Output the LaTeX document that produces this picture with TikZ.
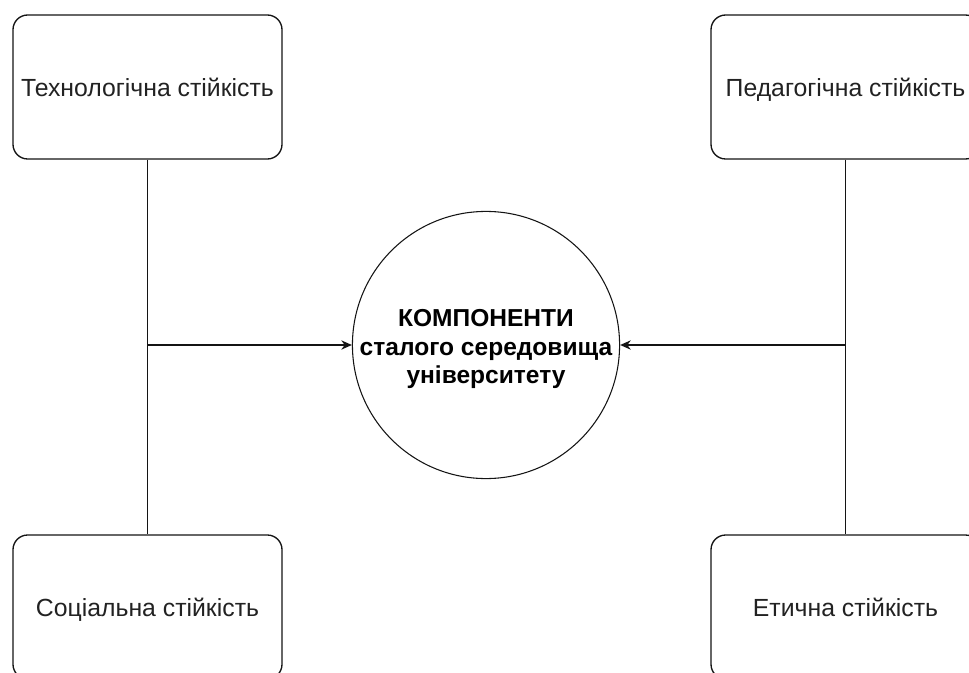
\documentclass[tikz,border=0pt]{standalone}
\usepackage{fontspec}
\setmainfont{Liberation Sans}
\usepackage{xcolor}
\usetikzlibrary{positioning,arrows.meta}
\definecolor{ink}{RGB}{20,20,20}
\definecolor{textink}{RGB}{34,34,34}

\tikzset{
  partbox/.style={draw=ink,line width=1pt,rounded corners=11pt,minimum width=201.75pt,minimum height=108pt,text=textink,text height=17pt,text depth=3pt,font=\fontsize{18.6}{22}\selectfont},
  corecircle/.style={draw=ink,line width=0.8pt,circle,minimum size=200pt,inner sep=0pt,align=center,text=black,font=\fontsize{18.4}{21.5}\selectfont\bfseries},
  link/.style={draw=ink,line width=1pt},
  feed/.style={link,-{Stealth[length=8pt,width=7pt]}}
}

\begin{document}
\begin{tikzpicture}[x=0.75pt,y=-0.75pt]
\useasboundingbox (0,0) rectangle (969,673);
\node[partbox] (tech) at (147.5,87) {Технологічна стійкість};
\node[partbox] (ped) at (845.5,87) {Педагогічна стійкість};
\node[partbox] (soc) at (147.5,607) {Соціальна стійкість};
\node[partbox] (eth) at (845.5,607) {Етична стійкість};
\node[corecircle] (core) at (486,345) {\rule{0pt}{19pt}КОМПОНЕНТИ\\сталого середовища\\університету};
\coordinate (lj) at (tech.south |- core.west);
\coordinate (rj) at (ped.south |- core.east);
\draw[link] (tech.south) -- (soc.north);
\draw[link] (ped.south) -- (eth.north);
\draw[feed] (lj) -- (core.west);
\draw[feed] (rj) -- (core.east);
\end{tikzpicture}
\end{document}
